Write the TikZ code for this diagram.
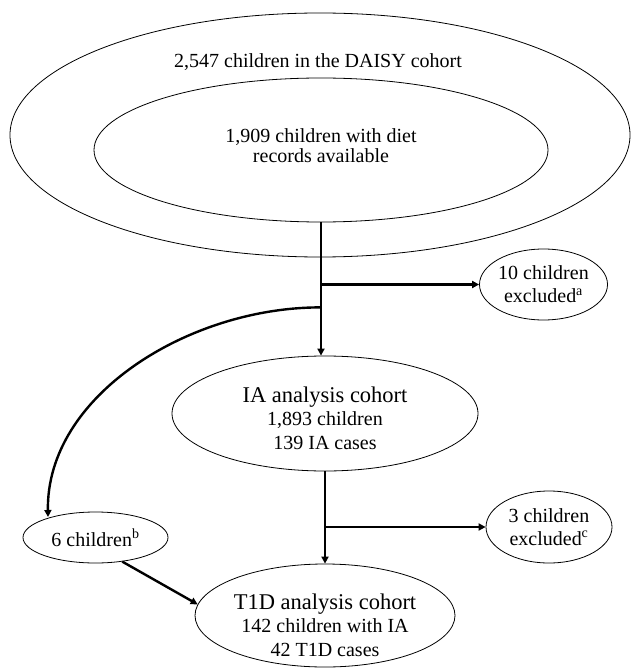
\documentclass[tikz,border=0pt]{standalone}
\usepackage{fontspec}
\setmainfont{Liberation Serif}
\usetikzlibrary{shapes.geometric,arrows.meta}
\tikzset{
  ell/.style={draw, ellipse, line width=0.8pt, inner sep=0pt, align=center, font=\fontsize{20}{21}\selectfont},
  txt/.style={inner sep=0pt, align=center, font=\fontsize{20}{22}\selectfont},
  conn/.style={line width=2.4pt},
  arr/.style={conn, -{Triangle[length=7pt,width=7pt]}},
}
\newcommand{\ttl}{\fontsize{22.5}{24}\selectfont}
\begin{document}
\begin{tikzpicture}[x=1pt,y=-1pt]
\useasboundingbox (0,0) rectangle (638,668);
% outer cohort
\node[ell, minimum width=620pt, minimum height=244pt] (outer) at (320,135) {};
\node[txt] (outertxt) at (318,62) {2,547 children in the DAISY cohort};
% inner
\node[ell, minimum width=454pt, minimum height=144pt] (inner) at (321,150) {};
\node[txt, font=\fontsize{20}{20}\selectfont] (innertxt) at (321,146) {1,909 children with diet\\records available};
% excluded a
\node[ell, minimum width=125pt, minimum height=71pt, font=\fontsize{20}{23}\selectfont] (exa) at (543.5,284.5) {10 children\\excluded\textsuperscript{a}};
% IA cohort
\node[ell, minimum width=306pt, minimum height=115pt] (ia) at (325,413.5) {};
\node[txt, font=\fontsize{20}{23.5}\selectfont] (iatxt) at (325,418) {{\ttl IA analysis cohort}\\1,893 children\\139 IA cases};
% excluded c
\node[ell, minimum width=126pt, minimum height=72pt, font=\fontsize{20}{23}\selectfont] (exc) at (549,527) {3 children\\excluded\textsuperscript{c}};
% six children
\node[ell, minimum width=145pt, minimum height=51pt] (six) at (95.5,537.5) {6 children\textsuperscript{b}};
% T1D cohort
\node[ell, minimum width=260pt, minimum height=103pt] (t1d) at (325,615.5) {};
\node[txt, font=\fontsize{20}{23.5}\selectfont] (t1dtxt) at (325,625) {{\ttl T1D analysis cohort}\\142 children with IA\\42 T1D cases};
% connectors
\coordinate (top) at (inner.south);
\coordinate (ja) at (top |- exa.west);
\coordinate (jb) at ([yshift=-85pt]top);
\coordinate (sixin) at (48,517);
\draw[arr] (top) -- (top |- ia.north);
\draw[arr] (ja) -- (exa.west);
\draw[arr] (jb) .. controls (190,307) and (46,395) .. (sixin);
\coordinate (mid) at (ia.south);
\coordinate (jc) at (mid |- exc.west);
\draw[arr] (mid) -- (t1d.north);
\draw[arr] (jc) -- (exc.west);
\draw[arr] (six.-42) -- (t1d.175);
\end{tikzpicture}
\end{document}
